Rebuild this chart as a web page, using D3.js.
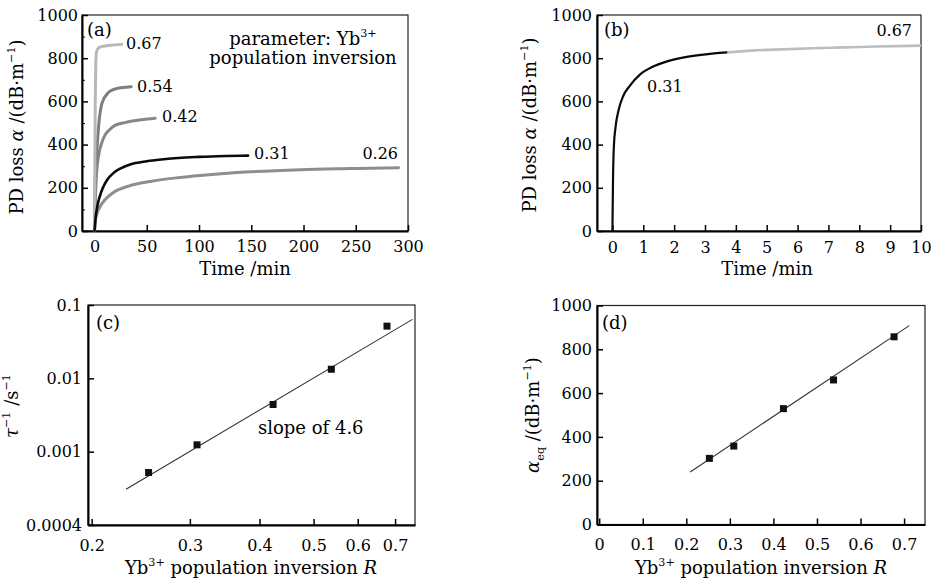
<!DOCTYPE html>
<html>
<head>
<meta charset="utf-8">
<script src="https://cdn.jsdelivr.net/npm/d3@7"></script>
<style>
  body { margin: 0; background: #fff; }
  text { font-family: "DejaVu Serif", serif; }
</style>
</head>
<body>
<div id="chart"></div>
<script>

// ---- data ----
// (a) PD loss vs time, one curve per Yb3+ inversion
var timeA67 = [0, 0.3, 0.7, 1.2, 2, 4, 8, 15, 26];
var lossA67 = [0, 300, 600, 780, 830, 848, 855, 860, 864];
var timeA54 = [0, 0.5, 1.2, 2.4, 4, 7, 13, 20, 27, 35];
var lossA54 = [0, 200, 300, 384, 490, 590, 640, 658, 664, 668];
var timeA42 = [0, 0.8, 2, 4, 7, 10, 15, 20, 30, 45, 58];
var lossA42 = [0, 150, 270, 352, 410, 444, 472, 490, 503, 515, 522];
var timeA31 = [0, 1, 2.5, 5, 8, 12, 18, 25, 34, 50, 66, 80, 100, 125, 147];
var lossA31 = [0, 60, 110, 160, 200, 236, 268, 290, 308, 323, 332, 338, 343, 347, 349];
var timeA26 = [0, 0.5, 2, 5, 10, 18, 34, 53, 66, 80, 101, 149, 197, 245, 291];
var lossA26 = [0, 40, 75, 110, 145, 178, 210, 229, 239, 247, 257, 274, 284, 289, 293];
var timeTicksA = [0, 50, 100, 150, 200, 250, 300];
var lossTicks = [0, 200, 400, 600, 800, 1000];

// (b) rescaled time, 0.31 part then 0.67 part
var timeB31 = [0, 0.02, 0.05, 0.1, 0.2, 0.35, 0.55, 0.9, 1.3, 1.7, 2.2, 2.8, 3.3, 3.72];
var lossB31 = [0, 250, 400, 480, 560, 625, 670, 725, 760, 782, 800, 814, 822, 827];
var timeB67 = [3.72, 4.5, 5.5, 6.5, 7.5, 8.5, 10];
var lossB67 = [827, 835, 841, 846, 850, 854, 858];
var timeTicksB = [0, 1, 2, 3, 4, 5, 6, 7, 8, 9, 10];

// (c), (d) vs population inversion R
var inversionR = [0.253, 0.309, 0.423, 0.538, 0.677];
var rateC = [5.2e-4, 1.24e-3, 4.4e-3, 0.0133, 0.0515];
var alphaEq = [302, 358, 529, 660, 857];
var fitRC = [0.2305, 0.752], fitRateC = [3.08e-4, 0.0637];
var fitRD = [0.209, 0.712], fitAlphaD = [240, 908];
var rTicksC = [0.2, 0.3, 0.4, 0.5, 0.6, 0.7];
var rateTicks = [1e-4, 1e-3, 1e-2, 1e-1];
var rateTickLabels = ["0.0004", "0.001", "0.01", "0.1"];
var rTicksD = [0, 0.1, 0.2, 0.3, 0.4, 0.5, 0.6, 0.7];

var svg = d3.select("#chart").append("svg")
    .attr("width", 938)
    .attr("height", 580);

// text with super/subscript pieces
function rich(sel, parts, size) {
  var shift = 0;
  parts.forEach(function(p) {
    var target = p[1] === "sup" ? -size * 0.42 : p[1] === "sub" ? size * 0.28 : 0;
    var t = sel.append("tspan").text(p[0]).attr("dy", target - shift);
    shift = target;
    if (p[1] === "sup" || p[1] === "sub") t.attr("font-size", size * 0.62);
    if (p[1] === "it") t.attr("font-style", "italic");
  });
}

function styleAxis(g) {
  g.attr("font-family", "DejaVu Serif, serif").attr("font-size", 16);
  g.select(".domain").attr("stroke-width", 2);
  g.selectAll(".tick line").attr("stroke-width", 1.5);
}

function frame(x, y) {
  svg.append("rect")
    .attr("x", x.range()[0]).attr("y", y.range()[1])
    .attr("width", x.range()[1] - x.range()[0])
    .attr("height", y.range()[0] - y.range()[1])
    .attr("fill", "none").attr("stroke", "#222").attr("stroke-width", 1.2);
}

function axes(x, y, xTicks, yTicks, xFmt, yFmt, xPad, yPad) {
  frame(x, y);
  svg.append("g")
    .attr("transform", "translate(0," + y.range()[0] + ")")
    .call(d3.axisBottom(x).tickValues(xTicks).tickFormat(xFmt)
      .tickSizeInner(-6).tickSizeOuter(0).tickPadding(xPad))
    .call(styleAxis);
  svg.append("g")
    .attr("transform", "translate(" + x.range()[0] + ",0)")
    .call(d3.axisLeft(y).tickValues(yTicks).tickFormat(yFmt)
      .tickSizeInner(-6).tickSizeOuter(0).tickPadding(yPad))
    .call(styleAxis);
}

function label(x, y, str, size, anchor) {
  return svg.append("text").attr("x", x).attr("y", y)
    .attr("font-size", size).attr("text-anchor", anchor || "start").text(str);
}

function yTitle(cx, cy, parts) {
  var t = svg.append("text")
    .attr("transform", "translate(" + cx + "," + cy + ") rotate(-90)")
    .attr("text-anchor", "middle").attr("font-size", 18);
  rich(t, parts, 18);
}

function xTitle(cx, y, parts) {
  var t = svg.append("text").attr("x", cx).attr("y", y)
    .attr("text-anchor", "middle").attr("font-size", 18);
  rich(t, parts, 18);
}

var lossTitle = [["PD loss "], ["α", "it"], [" /(dB·m"], ["−1", "sup"], [")"]];
var rTitle = [["Yb"], ["3+", "sup"], [" population inversion "], ["R", "it"]];

// ---------- (a) ----------
var xA = d3.scaleLinear().domain([-12, 300]).range([82, 408]);
var yA = d3.scaleLinear().domain([0, 1000]).range([231, 15]);
axes(xA, yA, timeTicksA, lossTicks, d3.format("d"), d3.format("d"), 9.5, 4);
svg.append("g").attr("transform", "translate(82,0)")
  .call(d3.axisLeft(yA).tickValues([100, 300, 500, 700, 900]).tickFormat("").tickSize(-3))
  .call(function(g) { g.select(".domain").remove(); });

var lineA = function(ts, vs) {
  return d3.line().curve(d3.curveMonotoneX)
    .x(function(d, i) { return xA(ts[i]); })
    .y(function(d, i) { return yA(vs[i]); })(ts);
};
var seriesA = [
  [timeA26, lossA26, "#8e8e8e", 3],
  [timeA42, lossA42, "#878787", 3],
  [timeA54, lossA54, "#7e7e7e", 3],
  [timeA67, lossA67, "#b8b8b8", 3],
  [timeA31, lossA31, "#0a0a0a", 2.6]
];
seriesA.forEach(function(s) {
  svg.append("path").attr("d", lineA(s[0], s[1]))
    .attr("fill", "none").attr("stroke", s[2]).attr("stroke-width", s[3])
    .attr("stroke-linecap", "round");
});
label(126, 49, "0.67", 16);
label(137, 92, "0.54", 16);
label(162, 122, "0.42", 16);
label(254, 159, "0.31", 16);
label(398, 159, "0.26", 16, "end");
label(87, 36, "(a)", 18);
var par = svg.append("text").attr("x", 303).attr("y", 45)
  .attr("text-anchor", "middle").attr("font-size", 18);
rich(par, [["parameter: Yb"], ["3+", "sup"]], 18);
label(303, 64, "population inversion", 18, "middle");
yTitle(23, 127, lossTitle);
xTitle(245, 275, [["Time /min"]]);

// ---------- (b) ----------
var xB = d3.scaleLinear().domain([-0.5, 10]).range([597, 921]);
var yB = d3.scaleLinear().domain([0, 1000]).range([231, 15]);
axes(xB, yB, timeTicksB, lossTicks, d3.format("d"), d3.format("d"), 10.5, 5);
var lineB = function(ts, vs) {
  return d3.line().curve(d3.curveMonotoneX)
    .x(function(d, i) { return xB(ts[i]); })
    .y(function(d, i) { return yB(vs[i]); })(ts);
};
svg.append("path").attr("d", lineB(timeB67, lossB67))
  .attr("fill", "none").attr("stroke", "#bdbdbd").attr("stroke-width", 2.6);
svg.append("path").attr("d", lineB(timeB31, lossB31))
  .attr("fill", "none").attr("stroke", "#0a0a0a").attr("stroke-width", 2.2);
label(647, 92, "0.31", 16);
label(912, 36, "0.67", 16, "end");
label(604, 36, "(b)", 18);
yTitle(536, 125, lossTitle);
xTitle(767, 275, [["Time /min"]]);

// ---------- (c) ----------
var xC = d3.scaleLog().domain([0.197, 0.76]).range([88, 415]);
var yC = d3.scaleLog().domain([1e-4, 0.1]).range([525, 305]);
axes(xC, yC, rTicksC, rateTicks, d3.format(".1f"),
  function(d, i) { return rateTickLabels[i]; }, 14.5, 6);
svg.append("path")
  .attr("d", d3.line()
    .x(function(d, i) { return xC(fitRC[i]); })
    .y(function(d, i) { return yC(fitRateC[i]); })(fitRC))
  .attr("fill", "none").attr("stroke", "#333").attr("stroke-width", 1.1);
svg.selectAll(".ptC").data(inversionR).enter().append("rect")
  .attr("x", function(d) { return xC(d) - 3.5; })
  .attr("y", function(d, i) { return yC(rateC[i]) - 3.5; })
  .attr("width", 7).attr("height", 7).attr("fill", "#111");
label(258, 434, "slope of 4.6", 18);
label(96, 329, "(c)", 18);
var tc = svg.append("text")
  .attr("transform", "translate(18,406) rotate(-90)")
  .attr("text-anchor", "middle").attr("font-size", 18);
rich(tc, [["τ", "it"], ["−1", "sup"], [" /s"], ["−1", "sup"]], 18);
xTitle(251, 574, rTitle);

// ---------- (d) ----------
var xD = d3.scaleLinear().domain([-0.005, 0.748]).range([597, 925]);
var yD = d3.scaleLinear().domain([0, 1000]).range([524.5, 305.5]);
axes(xD, yD, rTicksD, lossTicks,
  function(d) { return d === 0 ? "0" : d3.format(".1f")(d); }, d3.format("d"), 14.5, 5);
svg.append("path")
  .attr("d", d3.line()
    .x(function(d, i) { return xD(fitRD[i]); })
    .y(function(d, i) { return yD(fitAlphaD[i]); })(fitRD))
  .attr("fill", "none").attr("stroke", "#333").attr("stroke-width", 1.1);
svg.selectAll(".ptD").data(inversionR).enter().append("rect")
  .attr("x", function(d) { return xD(d) - 3.5; })
  .attr("y", function(d, i) { return yD(alphaEq[i]) - 3.5; })
  .attr("width", 7).attr("height", 7).attr("fill", "#111");
label(602, 329, "(d)", 18);
yTitle(539, 415, [["α", "it"], ["eq", "sub"], [" /(dB·m"], ["−1", "sup"], [")"]]);
xTitle(761, 574, rTitle);

</script>
</body>
</html>
